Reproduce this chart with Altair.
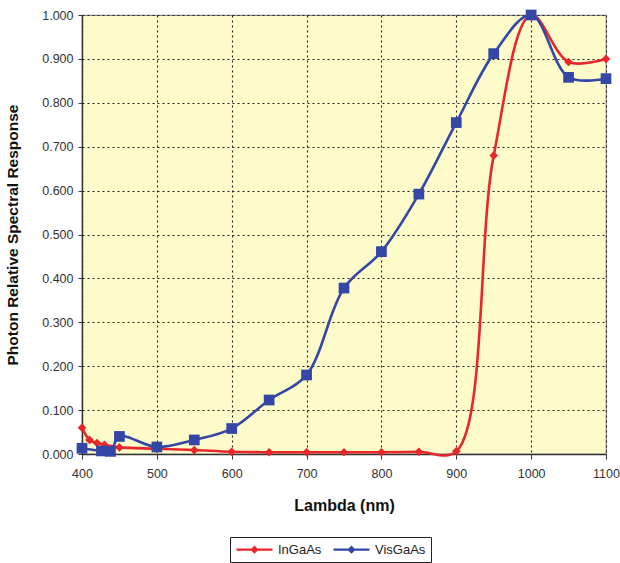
import altair as alt
import pandas as pd

# Spectral response of the two photocathodes
ingaas_nm = [400, 410, 420, 430, 450, 500, 550, 600, 650, 700, 750, 800, 850, 900, 950, 1000, 1050, 1100]
ingaas_resp = [0.060, 0.032, 0.025, 0.021, 0.015, 0.012, 0.009, 0.005, 0.004, 0.004, 0.004, 0.004, 0.005, 0.006,
               0.680, 1.000, 0.893, 0.900]

visgaas_nm = [400, 426, 438, 450, 500, 550, 600, 650, 700, 750, 800, 850, 900, 950, 1000, 1050, 1100]
visgaas_resp = [0.013, 0.007, 0.006, 0.040, 0.016, 0.032, 0.058, 0.123, 0.180, 0.378, 0.461, 0.592, 0.755, 0.912,
                1.000, 0.858, 0.855]

series_names = ["InGaAs", "VisGaAs"]
series_colors = ["#E8262B", "#3446A6"]
series_shapes = ["diamond", "square"]
series_sizes = [75, 115]

x_ticks = [400, 500, 600, 700, 800, 900, 1000, 1100]
y_ticks = [0.0, 0.1, 0.2, 0.3, 0.4, 0.5, 0.6, 0.7, 0.8, 0.9, 1.0]

df = pd.concat([
    pd.DataFrame({"nm": ingaas_nm, "resp": ingaas_resp, "series": "InGaAs"}),
    pd.DataFrame({"nm": visgaas_nm, "resp": visgaas_resp, "series": "VisGaAs"}),
], ignore_index=True)

x_enc = alt.X(
    "nm:Q",
    scale=alt.Scale(domain=[400, 1100], nice=False, zero=False),
    axis=alt.Axis(values=x_ticks, title="Lambda (nm)", format="d", labelFlush=False),
)
y_enc = alt.Y(
    "resp:Q",
    scale=alt.Scale(domain=[0, 1], nice=False),
    axis=alt.Axis(values=y_ticks, format=".3f", title="Photon Relative Spectral Response", labelFlush=False),
)

# smoothed lines carry the legend: a long stroke with a small marker in the middle
legend_glyph = "M-3,0L3,0M-0.4,0L0,-0.4L0.4,0L0,0.4Z"

lines = alt.Chart(df).mark_line(interpolate="catmull-rom", strokeWidth=2.6).encode(
    x=x_enc,
    y=y_enc,
    color=alt.Color(
        "series:N",
        scale=alt.Scale(domain=series_names, range=series_colors),
        legend=alt.Legend(
            title=None,
            orient="none",
            direction="horizontal",
            legendX=148,
            legendY=522,
            symbolType=legend_glyph,
            symbolSize=144,
            symbolStrokeWidth=2.4,
            symbolOffset=12,
            labelOffset=16,
            labelFontSize=13,
            labelFont="Liberation Sans Narrow, Liberation Sans, Arial",
            labelColor="#222",
            strokeColor="#222",
            padding=5,
            columnPadding=6,
        ),
    ),
)

# data markers, one layer per series
marker_layers = [
    alt.Chart(df)
    .transform_filter(alt.datum.series == name)
    .mark_point(filled=True, opacity=1, shape=shape, size=size, color=col)
    .encode(x=x_enc, y=y_enc)
    for name, col, shape, size in zip(series_names, series_colors, series_shapes, series_sizes)
]

chart = (
    alt.layer(lines, *marker_layers)
    .properties(
        width=524,
        height=439,
        autosize=alt.AutoSizeParams(type="none"),
        padding={"left": 82, "top": 15, "right": 14, "bottom": 109},
        background="white",
    )
    .configure_view(fill="#FDFBC9", stroke="#8A8A8A", strokeWidth=1.2)
    .configure_axis(
        labelFont="Liberation Sans, Arial",
        labelFontSize=12.5,
        labelColor="#333",
        titleFont="Liberation Sans, Arial",
        titleFontWeight="bold",
        titleColor="#111",
        domainColor="#333",
        domainWidth=1.4,
        tickColor="#333",
        tickSize=5,
        gridColor="#222",
        gridDash=[2, 3],
        gridWidth=1.1,
        gridOpacity=1,
    )
    .configure_axisX(labelPadding=8, titleY=43, titleBaseline="top", titleFontSize=16)
    .configure_axisY(tickSize=4, labelPadding=5, titleX=-62, titleY=219.5, titleFontSize=15.5)
)

chart.save("out.html", embed_options={"renderer": "svg", "actions": False})
